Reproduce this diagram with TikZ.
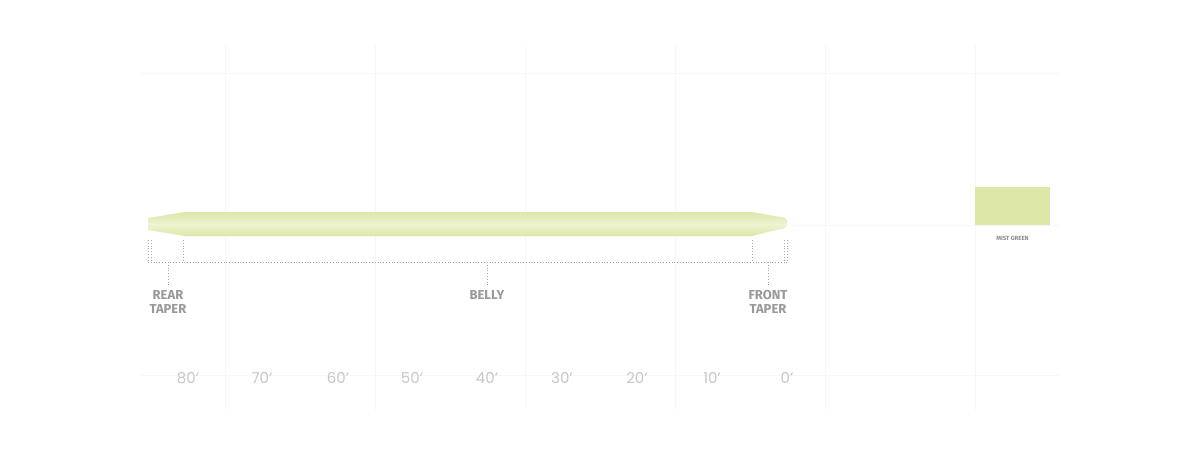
\documentclass[tikz,border=0pt]{standalone}
\usepackage{fontspec}
\setmainfont{Poppins}
\newfontfamily\labelfont{Fira Sans}
\begin{document}
\begin{tikzpicture}[x=1pt,y=-1pt,
  gridline/.style={draw=black!3,line width=0.8pt},
  dimline/.style={draw=black!35,dotted,line width=0.8pt},
  seglabel/.style={font=\labelfont\bfseries\fontsize{13}{14}\selectfont,text=black!40,align=center,inner sep=0pt,anchor=north},
  axislabel/.style={font=\fontsize{15}{17}\selectfont,text=black!22,inner sep=0pt},
  swatchlabel/.style={font=\labelfont\bfseries\fontsize{6}{7}\selectfont,text=black!45,inner sep=0pt}]
\useasboundingbox (0,0) rectangle (1200,450);
\fill[white] (0,0) rectangle (1200,450);
% grid
\foreach \x in {225,375,525,675,825,975}
  \draw[gridline] (\x,45) -- (\x,410);
\foreach \y in {73,375}
  \draw[gridline] (140,\y) -- (1060,\y);
\draw[gridline] (790,225) -- (1060,225);
% fly line
\definecolor{mist}{HTML}{DCE7A8}
\definecolor{mistlight}{HTML}{EEF3D2}
\shade[top color=mist,bottom color=mist,middle color=mistlight]
  (148,218) -- (185,212) -- (752,212) -- (780,217)
  .. controls (790,216) and (790,230) .. (780,229)
  -- (752,236) -- (185,236) -- (148,230) -- cycle;
% swatch
\node[fill=mist,minimum width=75pt,minimum height=38pt,inner sep=0pt,anchor=north west] (swatch) at (975,187) {};
\node[swatchlabel] (swl) at (1012.5,238) {MIST GREEN};
% dimension marks
\coordinate (r0a) at (148,240); \coordinate (r0b) at (148,262);
\coordinate (r1a) at (151,240); \coordinate (r1b) at (151,262);
\coordinate (r2a) at (183,240); \coordinate (r2b) at (183,262);
\coordinate (f0a) at (752,240); \coordinate (f0b) at (752,262);
\coordinate (f1a) at (784,240); \coordinate (f1b) at (784,262);
\coordinate (f2a) at (787,240); \coordinate (f2b) at (787,262);
\draw[dimline] (r0a) -- (r0b);
\draw[dimline] (r1a) -- (r1b);
\draw[dimline] (r2a) -- (r2b);
\draw[dimline] (f0a) -- (f0b);
\draw[dimline] (f1a) -- (f1b);
\draw[dimline] (f2a) -- (f2b);
\draw[dimline] (r0b) -- (f2b);
\node[seglabel] (rear) at (168,290) {REAR\\TAPER};
\node[seglabel] (belly) at (487,290) {BELLY};
\node[seglabel] (front) at (768,290) {FRONT\\TAPER};
\coordinate (rt) at (168,262); \coordinate (bt) at (487,262); \coordinate (ft) at (768,262);
\draw[dimline] (rt) -- ([yshift=4pt]rear.north);
\draw[dimline] (bt) -- ([yshift=4pt]belly.north);
\draw[dimline] (ft) -- ([yshift=4pt]front.north);
% axis
\foreach \lab/\x in {80/188,70/262,60/338,50/412,40/487,30/562,20/637,10/712,0/787}
  \node[axislabel] (ax\lab) at (\x,378) {\lab'};
\end{tikzpicture}
\end{document}
